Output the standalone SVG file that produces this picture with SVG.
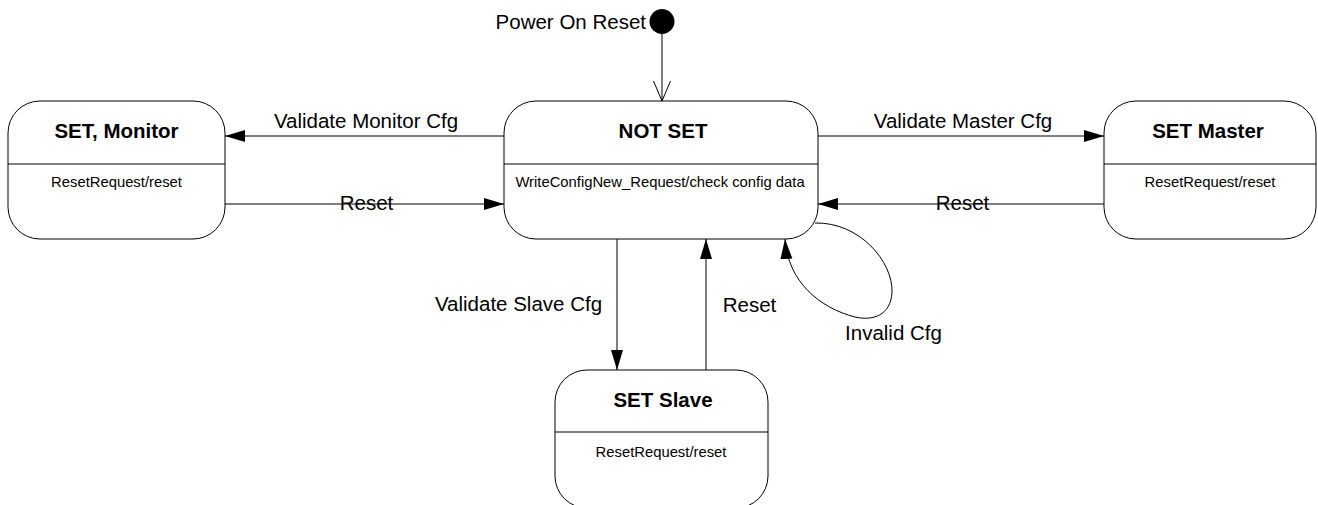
<svg xmlns="http://www.w3.org/2000/svg" width="1318" height="505" viewBox="0 0 1318 505">
<style>
.box{fill:#fff;stroke:#000;stroke-width:1}
.div{stroke:#000;stroke-width:1}
.title{font-family:"Liberation Sans",Arial,sans-serif;font-weight:bold;font-size:20.5px;text-anchor:middle;fill:#000}
.act{font-family:"Liberation Sans",Arial,sans-serif;font-size:14.8px;text-anchor:middle;fill:#000}
.lbl{font-family:"Liberation Sans",Arial,sans-serif;font-size:20.5px;text-anchor:middle;fill:#000}
.edge{fill:none;stroke:#000;stroke-width:1}
</style>
<defs>
<marker id="fa" markerUnits="userSpaceOnUse" markerWidth="21" markerHeight="13" refX="20" refY="6" orient="auto">
<path d="M0,0 L20,6 L0,12 z" fill="#000"/>
</marker>
<marker id="oa" markerUnits="userSpaceOnUse" markerWidth="22" markerHeight="19" refX="20" refY="9" orient="auto">
<path d="M0,0.5 L20,9 L0,17.5" fill="none" stroke="#000" stroke-width="1"/>
</marker>
</defs>
<rect width="1318" height="505" fill="#fff"/>
<g id="connectors">
<line class="edge" x1="662" y1="34" x2="662" y2="101" marker-end="url(#oa)"/>
<line class="edge" x1="504" y1="136" x2="225" y2="136" marker-end="url(#fa)"/>
<line class="edge" x1="225" y1="204" x2="504" y2="204" marker-end="url(#fa)"/>
<line class="edge" x1="818" y1="136" x2="1104" y2="136" marker-end="url(#fa)"/>
<line class="edge" x1="1104" y1="204" x2="818" y2="204" marker-end="url(#fa)"/>
<line class="edge" x1="617" y1="239" x2="617" y2="370" marker-end="url(#fa)"/>
<line class="edge" x1="706" y1="370" x2="706" y2="239" marker-end="url(#fa)"/>
<path class="edge" d="M 815,223 C 860,222 893,262 892,292 C 891,316 872,321 855,317 C 820,308 788,282 785,239" marker-end="url(#fa)"/>
<text class="lbl" x="366" y="128">Validate Monitor Cfg</text>
<text class="lbl" x="366.5" y="210">Reset</text>
<text class="lbl" x="963" y="128">Validate Master Cfg</text>
<text class="lbl" x="962.5" y="210">Reset</text>
<text class="lbl" x="518.5" y="311">Validate Slave Cfg</text>
<text class="lbl" x="749.5" y="312">Reset</text>
<text class="lbl" x="893.5" y="340">Invalid Cfg</text>
</g>
<g id="initial">
<circle cx="662" cy="21.5" r="12.5" fill="#000"/>
<text class="lbl" x="646" y="29" style="text-anchor:end">Power On Reset</text>
</g>
<g id="set-monitor">
<rect class="box" x="8" y="101" width="217" height="138" rx="32" ry="32"/>
<line class="div" x1="8" y1="164" x2="225" y2="164"/>
<text class="title" x="116.5" y="138">SET, Monitor</text>
<text class="act" x="116.5" y="187">ResetRequest/reset</text>
</g>
<g id="not-set">
<rect class="box" x="504" y="101" width="314" height="138" rx="32" ry="32"/>
<line class="div" x1="504" y1="164" x2="818" y2="164"/>
<text class="title" x="663" y="138">NOT SET</text>
<text class="act" x="660" y="187">WriteConfigNew_Request/check config data</text>
</g>
<g id="set-master">
<rect class="box" x="1104" y="101" width="212" height="138" rx="32" ry="32"/>
<line class="div" x1="1104" y1="164" x2="1316" y2="164"/>
<text class="title" x="1208" y="138">SET Master</text>
<text class="act" x="1210" y="187">ResetRequest/reset</text>
</g>
<g id="set-slave">
<rect class="box" x="555" y="370" width="213" height="138" rx="32" ry="32"/>
<line class="div" x1="555" y1="432" x2="768" y2="432"/>
<text class="title" x="663" y="407">SET Slave</text>
<text class="act" x="661" y="457">ResetRequest/reset</text>
</g>
</svg>
